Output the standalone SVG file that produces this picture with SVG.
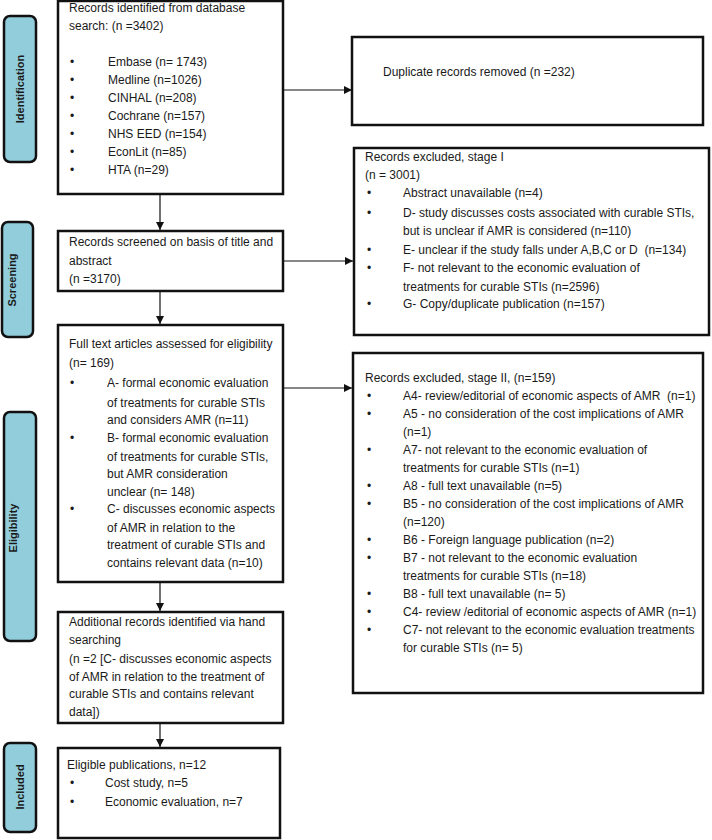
<svg xmlns="http://www.w3.org/2000/svg" width="712" height="840" viewBox="0 0 712 840">
<defs>
<style>
.box{fill:#fff;stroke:#111;stroke-width:2.5}
.lab{fill:#92cddc;stroke:#111;stroke-width:2.5}
.t{font-family:"Liberation Sans",Arial,sans-serif;font-size:12px;fill:#1a1a1a;white-space:pre}
.lt{font-family:"Liberation Sans",Arial,sans-serif;font-size:11px;font-weight:bold;fill:#1a1a1a;text-anchor:middle}
.c{stroke:#111;stroke-width:1.2;fill:none}
</style>
<marker id="ah" viewBox="0 0 10 10" refX="10" refY="5" markerWidth="8" markerHeight="8" markerUnits="userSpaceOnUse" orient="auto">
<path d="M0,0 L10,5 L0,10 z" fill="#111"/>
</marker>
</defs>
<rect width="712" height="840" fill="#fff"/>

<g id="label-identification">
<rect class="lab" x="4" y="16" width="32" height="146" rx="6"/>
<text class="lt" transform="translate(20,89) rotate(-90)" x="0" y="4">Identification</text>
</g>
<g id="label-screening">
<rect class="lab" x="2" y="222" width="31" height="115" rx="6"/>
<text class="lt" transform="translate(12,280) rotate(-90)" x="0" y="4">Screening</text>
</g>
<g id="label-eligibility">
<rect class="lab" x="4" y="412" width="32" height="229" rx="6"/>
<text class="lt" transform="translate(13,528) rotate(-90)" x="0" y="4">Eligibility</text>
</g>
<g id="label-included">
<rect class="lab" x="4" y="743" width="32" height="89" rx="6"/>
<text class="lt" transform="translate(20,787) rotate(-90)" x="0" y="4">Included</text>
</g>

<g id="connectors">
<line class="c" x1="283" y1="90" x2="352" y2="90" marker-end="url(#ah)"/>
<line class="c" x1="160" y1="194" x2="160" y2="230" marker-end="url(#ah)"/>
<line class="c" x1="283" y1="261" x2="353" y2="261" marker-end="url(#ah)"/>
<line class="c" x1="160" y1="291" x2="160" y2="324" marker-end="url(#ah)"/>
<line class="c" x1="283" y1="388" x2="352" y2="388" marker-end="url(#ah)"/>
<line class="c" x1="160" y1="582" x2="160" y2="611" marker-end="url(#ah)"/>
<line class="c" x1="160" y1="723" x2="160" y2="747" marker-end="url(#ah)"/>
</g>

<g id="records-identified">
<rect class="box" x="58" y="1" width="225" height="193"/>
<text class="t" x="69" y="12">Records identified from database</text>
<text class="t" x="69" y="30">search: (n =3402)</text>
<text class="t" x="70" y="66">•</text><text class="t" x="108" y="66">Embase (n= 1743)</text>
<text class="t" x="70" y="84">•</text><text class="t" x="108" y="84">Medline (n=1026)</text>
<text class="t" x="70" y="102">•</text><text class="t" x="108" y="102">CINHAL (n=208)</text>
<text class="t" x="70" y="120">•</text><text class="t" x="108" y="120">Cochrane (n=157)</text>
<text class="t" x="70" y="138">•</text><text class="t" x="108" y="138">NHS EED (n=154)</text>
<text class="t" x="70" y="156">•</text><text class="t" x="108" y="156">EconLit (n=85)</text>
<text class="t" x="70" y="174">•</text><text class="t" x="108" y="174">HTA (n=29)</text>
</g>

<g id="duplicates">
<rect class="box" x="352" y="37" width="351" height="88"/>
<text class="t" x="383" y="76">Duplicate records removed (n =232)</text>
</g>

<g id="screened">
<rect class="box" x="58" y="231" width="225" height="60"/>
<text class="t" x="69" y="246">Records screened on basis of title and</text>
<text class="t" x="69" y="265">abstract</text>
<text class="t" x="69" y="283">(n =3170)</text>
</g>

<g id="excluded-stage1">
<rect class="box" x="354" y="148" width="355" height="187"/>
<text class="t" x="365" y="161">Records excluded, stage I</text>
<text class="t" x="365" y="179">(n = 3001)</text>
<text class="t" x="367" y="197">•</text><text class="t" x="403" y="197">Abstract unavailable (n=4)</text>
<text class="t" x="367" y="217">•</text><text class="t" x="403" y="217">D- study discusses costs associated with curable STIs,</text>
<text class="t" x="403" y="235">but is unclear if AMR is considered (n=110)</text>
<text class="t" x="367" y="254">•</text><text class="t" x="403" y="254" xml:space="preserve">E- unclear if the study falls under A,B,C or D  (n=134)</text>
<text class="t" x="367" y="272">•</text><text class="t" x="403" y="272">F- not relevant to the economic evaluation of</text>
<text class="t" x="403" y="291">treatments for curable STIs (n=2596)</text>
<text class="t" x="367" y="308">•</text><text class="t" x="403" y="308">G- Copy/duplicate publication (n=157)</text>
</g>

<g id="full-text">
<rect class="box" x="58" y="325" width="225" height="257"/>
<text class="t" x="69" y="348">Full text articles assessed for eligibility</text>
<text class="t" x="69" y="367">(n= 169)</text>
<text class="t" x="70" y="387">•</text><text class="t" x="107" y="387">A- formal economic evaluation</text>
<text class="t" x="107" y="407">of treatments for curable STIs</text>
<text class="t" x="107" y="424">and considers AMR (n=11)</text>
<text class="t" x="70" y="442">•</text><text class="t" x="107" y="442">B- formal economic evaluation</text>
<text class="t" x="107" y="461">of treatments for curable STIs,</text>
<text class="t" x="107" y="478">but AMR consideration</text>
<text class="t" x="107" y="496">unclear (n= 148)</text>
<text class="t" x="70" y="513">•</text><text class="t" x="107" y="513">C- discusses economic aspects</text>
<text class="t" x="107" y="532">of AMR in relation to the</text>
<text class="t" x="107" y="549">treatment of curable STIs and</text>
<text class="t" x="107" y="567">contains relevant data (n=10)</text>
</g>

<g id="excluded-stage2">
<rect class="box" x="353" y="353" width="350" height="340"/>
<text class="t" x="365" y="382">Records excluded, stage II, (n=159)</text>
<text class="t" x="367" y="400">•</text><text class="t" x="403" y="400" xml:space="preserve">A4- review/editorial of economic aspects of AMR  (n=1)</text>
<text class="t" x="367" y="418">•</text><text class="t" x="403" y="418">A5 - no consideration of the cost implications of AMR</text>
<text class="t" x="403" y="436">(n=1)</text>
<text class="t" x="367" y="454">•</text><text class="t" x="403" y="454">A7- not relevant to the economic evaluation of</text>
<text class="t" x="403" y="472">treatments for curable STIs (n=1)</text>
<text class="t" x="367" y="490">•</text><text class="t" x="403" y="490">A8 - full text unavailable (n=5)</text>
<text class="t" x="367" y="508">•</text><text class="t" x="403" y="508">B5 - no consideration of the cost implications of AMR</text>
<text class="t" x="403" y="526">(n=120)</text>
<text class="t" x="367" y="544">•</text><text class="t" x="403" y="544">B6 - Foreign language publication (n=2)</text>
<text class="t" x="367" y="562">•</text><text class="t" x="403" y="562">B7 - not relevant to the economic evaluation</text>
<text class="t" x="403" y="580">treatments for curable STIs (n=18)</text>
<text class="t" x="367" y="598">•</text><text class="t" x="403" y="598">B8 - full text unavailable (n= 5)</text>
<text class="t" x="367" y="616">•</text><text class="t" x="403" y="616">C4- review /editorial of economic aspects of AMR (n=1)</text>
<text class="t" x="367" y="634">•</text><text class="t" x="403" y="634">C7- not relevant to the economic evaluation treatments</text>
<text class="t" x="403" y="652">for curable STIs (n= 5)</text>
</g>

<g id="hand-search">
<rect class="box" x="58" y="612" width="225" height="111"/>
<text class="t" x="69" y="626">Additional records identified via hand</text>
<text class="t" x="69" y="644">searching</text>
<text class="t" x="69" y="663">(n =2 [C- discusses economic aspects</text>
<text class="t" x="69" y="681">of AMR in relation to the treatment of</text>
<text class="t" x="69" y="698">curable STIs and contains relevant</text>
<text class="t" x="69" y="716">data])</text>
</g>

<g id="eligible">
<rect class="box" x="58" y="748" width="222" height="90"/>
<text class="t" x="67" y="769">Eligible publications, n=12</text>
<text class="t" x="70" y="787">•</text><text class="t" x="105" y="787">Cost study, n=5</text>
<text class="t" x="70" y="806">•</text><text class="t" x="105" y="806">Economic evaluation, n=7</text>
</g>
</svg>
